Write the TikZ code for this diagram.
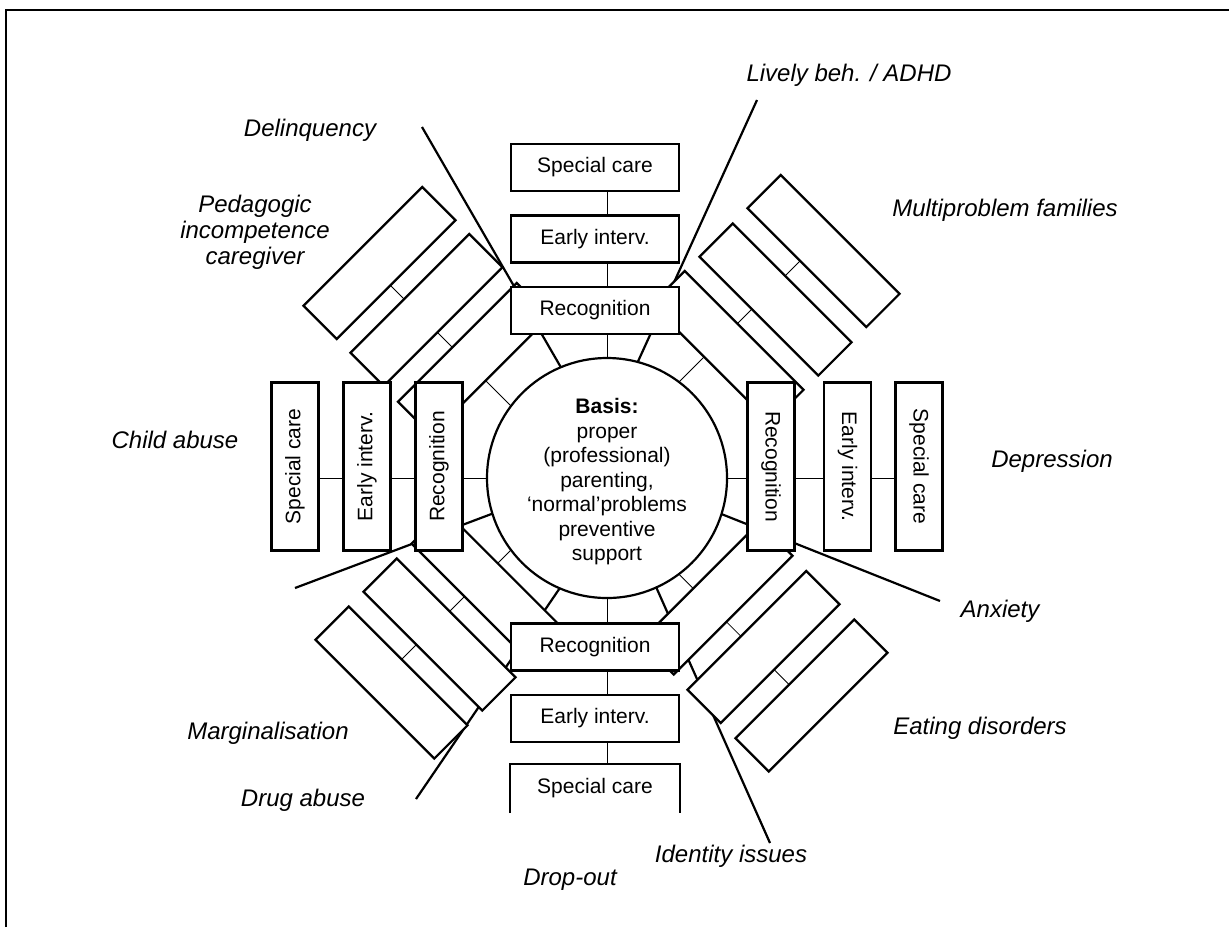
\documentclass[tikz,border=0pt]{standalone}
\usepackage{fontspec}
\setmainfont{Liberation Sans}
\usetikzlibrary{calc}
\pgfdeclarelayer{bg}
\pgfsetlayers{bg,main}
\begin{document}
\begin{tikzpicture}[x=0.5pt,y=-0.5pt,line width=1.1pt,
  box/.style={draw,fill=white,minimum width=84pt,minimum height=23.5pt,inner sep=0pt,
    font=\fontsize{10.5}{12.6}\selectfont},
  openbox/.style={box,draw=none},
  dbox/.style={draw,fill=white,minimum width=84pt,minimum height=23.5pt,inner sep=0pt},
  lab/.style={inner sep=0pt,align=center,font=\fontsize{12}{13}\selectfont\itshape},
  ldr/.style={line width=1.1pt},
]
\useasboundingbox (0,0) rectangle (1229,927);
\draw[line width=1.3pt] (6,927) -- (6,10) -- (1229,10);

% centre
\node[circle,draw,fill=white,minimum size=120pt,inner sep=0pt] (basis) at (607,478) {};
\node[align=center,inner sep=0pt,font=\fontsize{10.5}{12.25}\selectfont] (basistxt) at (607,482)
  {\textbf{Basis:}\\proper\\(professional)\\parenting,\\‘normal’problems\\preventive\\support};

% diagonal chains (beneath the orthogonal boxes)
\node[dbox,rotate=45] (tl1) at (474,359) {};
\node[dbox,rotate=45] (tl2) at (426.5,310) {};
\node[dbox,rotate=45] (tl3) at (379.5,263) {};
\node[dbox,rotate=-45] (tr1) at (727.5,347) {};
\node[dbox,rotate=-45] (tr2) at (775.5,299.5) {};
\node[dbox,rotate=-45] (tr3) at (823.5,251) {};
\node[dbox,rotate=-45] (bl1) at (487.6,586.4) {};
\node[dbox,rotate=-45] (bl2) at (439.5,634.5) {};
\node[dbox,rotate=-45] (bl3) at (391.5,682.5) {};
\node[dbox,rotate=45] (br1) at (716.5,598.5) {};
\node[dbox,rotate=45] (br2) at (763.5,647) {};
\node[dbox,rotate=45] (br3) at (811.5,695.5) {};

% top chain
\node[box] (tsc) at (595,167.5) {Special care\hspace{5pt}};
\node[box] (tei) at (595,239) {Early interv.\hspace{7.5pt}};
\node[box] (trc) at (595,310.5) {Recognition};
% bottom chain
\node[box] (brc) at (595,647) {Recognition\hspace{7.5pt}};
\node[box] (bei) at (595,718.5) {Early interv.\hspace{7.5pt}};
\node[openbox] (bsc) at (595,788.5) {Special care\hspace{5pt}};
\draw (bsc.south west) -- (bsc.north west) -- (bsc.north east) -- (bsc.south east);
% left chain
\node[box,rotate=90] (lrc) at (439,466.5) {Recognition};
\node[box,rotate=90] (lei) at (367,466.5) {Early interv.};
\node[box,rotate=90] (lsc) at (295,466.5) {Special care};
% right chain
\node[box,rotate=-90] (rrc) at (771,466.5) {Recognition};
\node[box,rotate=-90] (rei) at (847.5,466.5) {Early interv.};
\node[box,rotate=-90] (rsc) at (919,466.5) {Special care};

% labels
\node[lab] (lively) at (849,75) {Lively beh. / ADHD};
\node[lab] (delinq) at (310,130) {Delinquency};
\node[lab] (pedag) at (255,232) {Pedagogic\\incompetence\\caregiver};
\node[lab] (multi) at (1005,210) {Multiproblem families};
\node[lab] (child) at (175,440) {Child abuse};
\node[lab] (depr) at (1052,461) {Depression};
\node[lab] (anx) at (1000,611) {Anxiety};
\node[lab] (marg) at (268,733) {Marginalisation};
\node[lab] (eat) at (980,728) {Eating disorders};
\node[lab] (drug) at (303,800) {Drug abuse};
\node[lab] (ident) at (731,856) {Identity issues};
\node[lab] (drop) at (570,880) {Drop-out};

% leader line ends
\coordinate (delA) at (422,127);   \coordinate (delB) at (574,390);
\coordinate (livA) at (757,100);   \coordinate (livB) at (625,390);
\coordinate (freeA) at (295,588);  \coordinate (freeB) at (510,507);
\coordinate (anxA) at (940,601);   \coordinate (anxB) at (700,505.5);
\coordinate (idA) at (770,843);    \coordinate (idB) at (648.5,570);
\coordinate (drugA) at (416,799);  \coordinate (drugB) at (566,579);
\coordinate (hub) at (583,478);

\begin{pgfonlayer}{bg}
  \draw[ldr] (delA) -- (delB);
  \draw[ldr] (livA) -- (livB);
  \draw[ldr] (freeA) -- (freeB);
  \draw[ldr] (anxA) -- (anxB);
  \draw[ldr] (idA) -- (idB);
  \draw[ldr] (drugA) -- (drugB);
  % orthogonal chains
  \draw (basis.center) -- (basis.center |- tsc.center);
  \draw (basis.center) -- (basis.center |- bsc.north);
  \draw (basis.center) -- (basis.center -| lsc.center);
  \draw (basis.center) -- (basis.center -| rsc.center);
  % diagonal chains
  \draw (hub) -- ([shift={(-5.75,5.75)}]tl3.center);
  \draw (hub) -- ([shift={(-6.75,-6.75)}]tr3.center);
  \draw (hub) -- ([shift={(-6.5,-6.5)}]bl3.center);
  \draw (hub) -- ([shift={(-5.75,5.75)}]br3.center);
\end{pgfonlayer}
\end{tikzpicture}
\end{document}
